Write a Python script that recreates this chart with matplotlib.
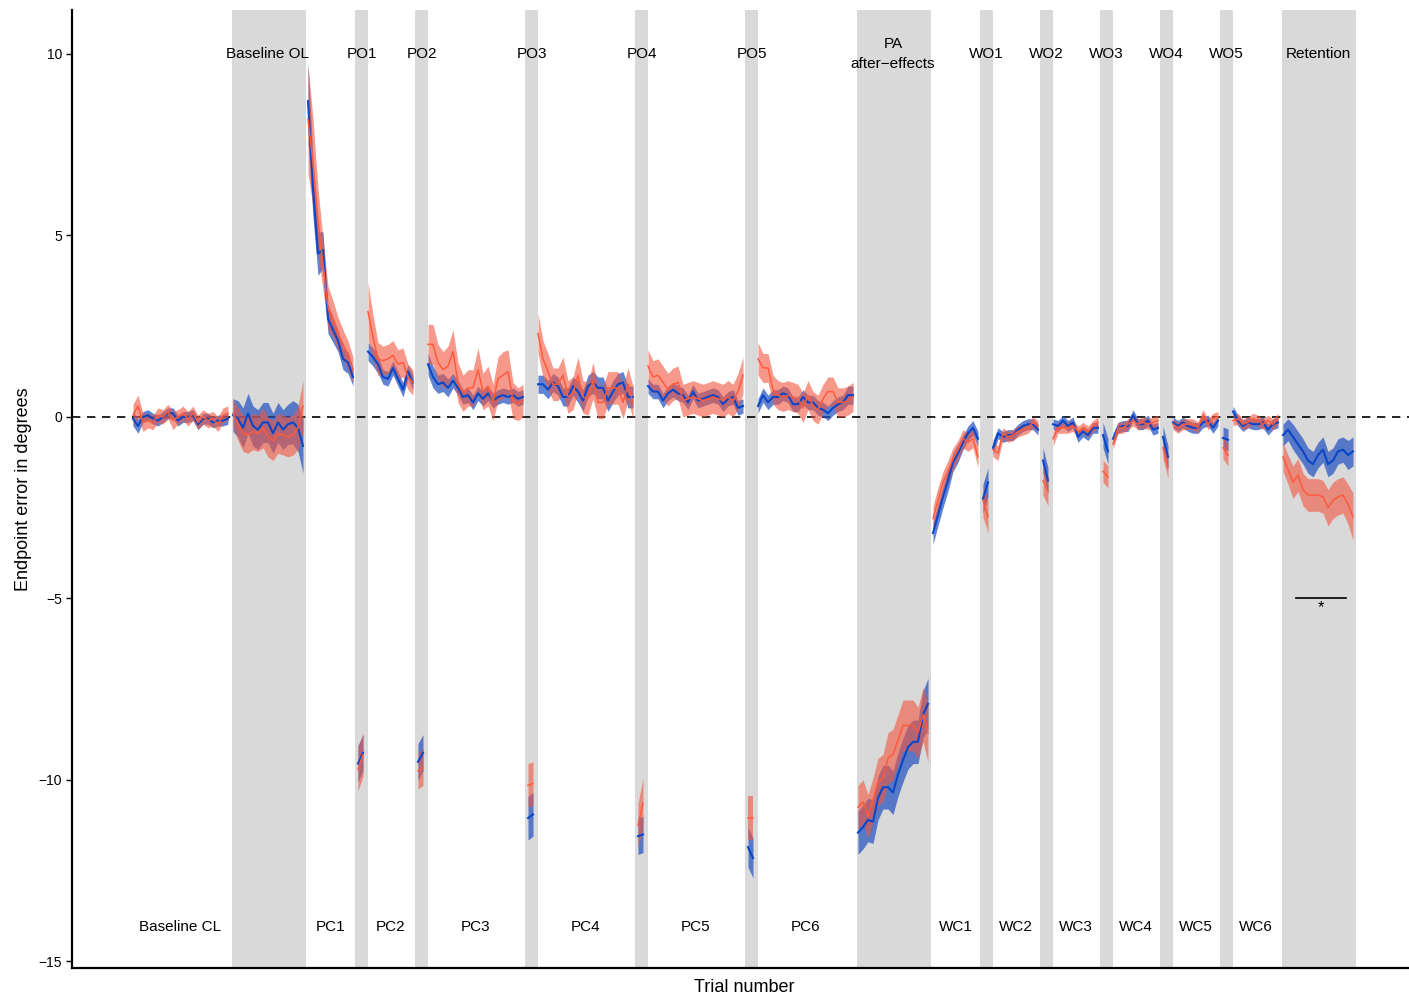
import numpy as np
import matplotlib.pyplot as plt

plt.rcParams['font.family'] = ['Liberation Sans', 'DejaVu Sans']

# Blocks in the order they were run; shaded blocks are open-loop / no-feedback
block_labels = ['Baseline CL', 'Baseline OL', 'PC1', 'PO1', 'PC2', 'PO2', 'PC3', 'PO3',
                'PC4', 'PO4', 'PC5', 'PO5', 'PC6', 'PA\nafter\u2212effects',
                'WC1', 'WO1', 'WC2', 'WO2', 'WC3', 'WO3', 'WC4', 'WO4', 'WC5', 'WO5',
                'WC6', 'Retention']
block_sizes = [20, 15, 10, 2, 10, 2, 20, 2, 20, 2, 20, 2, 20, 15,
               10, 2, 10, 2, 10, 2, 10, 2, 10, 2, 10, 15]
block_shaded = [False, True, False, True, False, True, False, True, False, True, False, True,
                False, True, False, True, False, True, False, True, False, True, False, True,
                False, True]

# group 1 (blue): mean endpoint error per trial, one row per block
blue_mean = [
    -0.05, -0.25, 0.0, 0.05, -0.05, -0.1, 0.0, 0.1, 0.1, -0.1, 0.0, 0.0, 0.05, -0.2, -0.05, -0.05, -0.15, -0.1, -0.1, -0.05,
    0.05, -0.05, -0.3, 0.1, -0.25, -0.35, -0.15, -0.15, -0.45, -0.15, -0.35, -0.2, -0.15, -0.3, -0.8,
    8.7, 6.3, 4.5, 4.6, 2.7, 2.4, 2.1, 1.6, 1.5, 1.1,
    -9.55, -9.25,
    1.8, 1.65, 1.45, 1.1, 1.05, 1.35, 1.05, 0.75, 1.25, 0.95,
    -9.5, -9.25,
    1.45, 1.1, 0.9, 0.95, 0.8, 1.0, 0.8, 0.55, 0.6, 0.4, 0.65, 0.5, 0.65, 0.45, 0.55, 0.6, 0.55, 0.6, 0.5, 0.55,
    -11.05, -10.95,
    0.9, 0.9, 0.75, 0.95, 0.85, 0.55, 0.55, 0.85, 0.7, 0.45, 0.85, 0.95, 0.8, 0.8, 0.45, 0.7, 0.9, 0.95, 0.55, 0.55,
    -11.55, -11.5,
    0.85, 0.7, 0.7, 0.45, 0.65, 0.75, 0.65, 0.6, 0.4, 0.7, 0.45, 0.5, 0.55, 0.6, 0.55, 0.35, 0.5, 0.55, 0.25, 0.3,
    -11.85, -12.15,
    0.3, 0.6, 0.4, 0.55, 0.55, 0.65, 0.6, 0.35, 0.35, 0.55, 0.4, 0.4, 0.25, 0.2, 0.1, 0.25, 0.35, 0.4, 0.6, 0.6,
    -11.45, -11.3, -11.1, -11.15, -10.5, -10.2, -10.2, -10.35, -9.85, -9.45, -9.1, -8.95, -8.95, -8.2, -7.9,
    -3.2, -2.7, -2.2, -1.75, -1.25, -1.0, -0.7, -0.45, -0.3, -0.6,
    -2.25, -1.8,
    -0.85, -0.45, -0.55, -0.5, -0.5, -0.35, -0.25, -0.2, -0.2, -0.35,
    -1.2, -1.75,
    -0.2, -0.25, -0.1, -0.25, -0.15, -0.55, -0.4, -0.5, -0.3, -0.3,
    -0.5, -0.95,
    -0.6, -0.3, -0.25, -0.25, 0.05, -0.2, -0.2, -0.1, -0.35, -0.3,
    -0.55, -1.1,
    -0.15, -0.25, -0.15, -0.25, -0.3, -0.3, -0.15, -0.1, -0.3, -0.1,
    -0.58, -0.63,
    0.15, -0.1, -0.25, -0.15, -0.2, -0.2, -0.15, -0.35, -0.2, -0.15,
    -0.5, -0.35, -0.55, -0.75, -0.95, -1.2, -1.3, -1.05, -0.9, -1.3, -1.2, -0.95, -0.9, -1.05, -0.95,
]
blue_sd = [
    0.2, 0.2, 0.15, 0.15, 0.15, 0.15, 0.15, 0.15, 0.15, 0.15, 0.15, 0.15, 0.15, 0.15, 0.15, 0.15, 0.15, 0.15, 0.15, 0.15,
    0.45, 0.5, 0.55, 0.55, 0.55, 0.55, 0.55, 0.55, 0.55, 0.55, 0.55, 0.55, 0.6, 0.65, 0.75,
    1.1, 0.8, 0.6, 0.5, 0.4, 0.35, 0.3, 0.3, 0.3, 0.25,
    0.5, 0.5,
    0.25, 0.25, 0.25, 0.2, 0.2, 0.2, 0.2, 0.2, 0.2, 0.2,
    0.5, 0.5,
    0.3, 0.3, 0.25, 0.25, 0.25, 0.2, 0.2, 0.2, 0.2, 0.2, 0.2, 0.2, 0.2, 0.2, 0.2, 0.2, 0.2, 0.2, 0.2, 0.2,
    0.6, 0.6,
    0.25, 0.25, 0.25, 0.25, 0.25, 0.25, 0.25, 0.25, 0.3, 0.3, 0.3, 0.3, 0.3, 0.3, 0.3, 0.3, 0.3, 0.3, 0.3, 0.3,
    0.5, 0.5,
    0.2, 0.2, 0.2, 0.2, 0.2, 0.2, 0.2, 0.2, 0.2, 0.2, 0.2, 0.2, 0.2, 0.2, 0.2, 0.2, 0.2, 0.2, 0.2, 0.2,
    0.55, 0.55,
    0.2, 0.2, 0.2, 0.2, 0.2, 0.2, 0.2, 0.2, 0.2, 0.2, 0.2, 0.2, 0.2, 0.2, 0.2, 0.2, 0.2, 0.2, 0.25, 0.25,
    0.6, 0.6, 0.6, 0.6, 0.6, 0.6, 0.6, 0.6, 0.6, 0.6, 0.6, 0.6, 0.6, 0.65, 0.7,
    0.3, 0.3, 0.3, 0.3, 0.25, 0.25, 0.2, 0.2, 0.2, 0.2,
    0.4, 0.4,
    0.2, 0.15, 0.15, 0.15, 0.15, 0.15, 0.15, 0.15, 0.15, 0.15,
    0.35, 0.35,
    0.15, 0.15, 0.15, 0.15, 0.15, 0.15, 0.15, 0.15, 0.15, 0.15,
    0.35, 0.35,
    0.15, 0.15, 0.15, 0.15, 0.15, 0.15, 0.15, 0.15, 0.15, 0.15,
    0.3, 0.3,
    0.15, 0.15, 0.15, 0.15, 0.15, 0.15, 0.15, 0.15, 0.15, 0.15,
    0.3, 0.3,
    0.15, 0.15, 0.15, 0.15, 0.15, 0.15, 0.15, 0.15, 0.15, 0.15,
    0.3, 0.3, 0.35, 0.35, 0.35, 0.35, 0.35, 0.35, 0.35, 0.35, 0.35, 0.35, 0.35, 0.4, 0.4,
]

# group 2 (red)
red_mean = [
    0.05, 0.3, -0.15, -0.1, -0.15, 0.05, 0.0, 0.15, -0.1, 0.0, 0.1, -0.05, 0.1, -0.15, 0.0, -0.1, -0.05, -0.2, 0.05, 0.1,
    0.1, -0.2, -0.45, -0.5, -0.4, -0.45, -0.3, -0.55, -0.65, -0.45, -0.5, -0.55, -0.5, -0.3, 0.3,
    8.2, 7.0, 5.4, 4.2, 3.0, 2.7, 2.3, 2.0, 1.7, 1.3,
    -9.7, -9.3,
    2.9, 2.2, 1.6, 1.55, 1.6, 1.7, 1.45, 1.5, 1.1, 0.95,
    -9.75, -9.65,
    2.0, 2.0, 1.5, 1.3, 1.4, 1.8, 0.95, 0.65, 0.8, 0.8, 1.3, 0.7, 0.85, 0.4, 1.05, 1.15, 1.25, 0.45, 0.35, 0.45,
    -10.15, -10.1,
    2.3, 1.6, 1.25, 0.9, 0.9, 1.15, 0.55, 0.65, 1.15, 0.55, 0.5, 1.0, 0.4, 0.4, 0.8, 0.8, 0.8, 0.4, 0.9, 0.4,
    -11.25, -10.65,
    1.4, 1.1, 1.15, 0.95, 0.75, 0.9, 0.95, 0.45, 0.5, 0.55, 0.5, 0.45, 0.5, 0.55, 0.5, 0.45, 0.55, 0.45, 0.7, 1.15,
    -11.05, -11.05,
    1.6, 1.35, 1.35, 0.75, 0.6, 0.55, 0.6, 0.55, 0.5, 0.25, 0.6, 0.3, 0.2, 0.5, 0.7, 0.7, 0.4, 0.4, 0.45, 0.55,
    -10.75, -10.6, -11.0, -10.55, -10.05, -9.95, -9.4, -9.3, -8.9, -8.5, -8.5, -8.5, -8.7, -8.2, -8.7,
    -2.8, -2.3, -1.8, -1.5, -1.15, -0.9, -0.6, -0.7, -0.6, -1.1,
    -2.3, -2.75,
    -0.9, -1.0, -0.45, -0.55, -0.5, -0.4, -0.35, -0.3, -0.15, -0.25,
    -1.75, -2.05,
    -0.6, -0.3, -0.3, -0.3, -0.25, -0.4, -0.3, -0.4, -0.25, -0.15,
    -1.5, -1.65,
    -0.75, -0.3, -0.3, -0.2, -0.1, -0.2, -0.15, -0.2, -0.15, -0.1,
    -0.85, -1.4,
    -0.2, -0.3, -0.2, -0.2, -0.2, -0.3, 0.05, -0.2, -0.05, 0.0,
    -0.85, -1.05,
    -0.1, -0.05, -0.2, -0.15, -0.05, -0.1, -0.2, -0.1, -0.2, -0.05,
    -1.1, -1.45, -1.8, -1.6, -2.0, -2.15, -2.15, -2.15, -2.2, -2.5, -2.3, -2.2, -2.15, -2.4, -2.75,
]
red_sd = [
    0.3, 0.3, 0.25, 0.2, 0.2, 0.2, 0.2, 0.2, 0.25, 0.2, 0.2, 0.2, 0.2, 0.2, 0.2, 0.2, 0.2, 0.2, 0.2, 0.2,
    0.4, 0.45, 0.5, 0.5, 0.5, 0.5, 0.55, 0.55, 0.55, 0.55, 0.55, 0.55, 0.55, 0.6, 0.7,
    1.5, 1.2, 0.9, 0.7, 0.6, 0.5, 0.45, 0.4, 0.4, 0.35,
    0.6, 0.6,
    0.8, 0.6, 0.45, 0.4, 0.4, 0.4, 0.4, 0.4, 0.35, 0.35,
    0.5, 0.5,
    0.55, 0.55, 0.5, 0.5, 0.55, 0.6, 0.55, 0.5, 0.5, 0.5, 0.6, 0.5, 0.55, 0.5, 0.6, 0.65, 0.6, 0.5, 0.45, 0.45,
    0.6, 0.6,
    0.55, 0.5, 0.5, 0.45, 0.45, 0.5, 0.45, 0.45, 0.5, 0.45, 0.45, 0.5, 0.45, 0.45, 0.45, 0.45, 0.45, 0.45, 0.45, 0.45,
    0.6, 0.7,
    0.45, 0.45, 0.45, 0.45, 0.45, 0.45, 0.45, 0.45, 0.45, 0.45, 0.45, 0.45, 0.45, 0.45, 0.45, 0.45, 0.45, 0.45, 0.5, 0.5,
    0.6, 0.6,
    0.45, 0.4, 0.4, 0.4, 0.4, 0.4, 0.4, 0.4, 0.4, 0.4, 0.4, 0.4, 0.4, 0.4, 0.4, 0.4, 0.4, 0.4, 0.4, 0.4,
    0.6, 0.6, 0.6, 0.6, 0.65, 0.65, 0.7, 0.7, 0.7, 0.7, 0.7, 0.7, 0.7, 0.75, 0.8,
    0.35, 0.35, 0.3, 0.3, 0.3, 0.25, 0.25, 0.25, 0.25, 0.3,
    0.45, 0.45,
    0.2, 0.2, 0.15, 0.15, 0.15, 0.15, 0.15, 0.15, 0.15, 0.15,
    0.4, 0.4,
    0.2, 0.15, 0.15, 0.15, 0.15, 0.15, 0.15, 0.15, 0.15, 0.15,
    0.3, 0.3,
    0.15, 0.15, 0.15, 0.15, 0.15, 0.15, 0.15, 0.15, 0.15, 0.15,
    0.3, 0.3,
    0.15, 0.15, 0.15, 0.15, 0.15, 0.15, 0.15, 0.15, 0.15, 0.15,
    0.3, 0.3,
    0.15, 0.15, 0.15, 0.15, 0.15, 0.15, 0.15, 0.15, 0.15, 0.15,
    0.4, 0.4, 0.45, 0.45, 0.45, 0.45, 0.45, 0.45, 0.45, 0.5, 0.5, 0.5, 0.5, 0.55, 0.65,
]

# Retention difference marker
sig_span = (233.6, 243.6)
sig_y = -5.0

blue_line, blue_fill = '#0a47c8', '#1f4fc0'
red_line, red_fill = '#ff5a3c', '#f2553d'
shade = '#d9d9d9'

fig = plt.figure(figsize=(14.09, 9.99), dpi=100)
ax = fig.add_axes([72 / 1409, 31 / 999, 1 - 72 / 1409, 958 / 999])

starts = np.concatenate([[1], 1 + np.cumsum(block_sizes)[:-1]])
blue_mean = np.array(blue_mean)
blue_sd = np.array(blue_sd)
red_mean = np.array(red_mean)
red_sd = np.array(red_sd)

# gray bands behind the no-feedback blocks
for s, n, sh in zip(starts, block_sizes, block_shaded):
    if not sh:
        continue
    last = s + n - 1
    if n <= 2:
        ax.axvspan(s - 0.6, last + 1.0, color=shade, lw=0, zorder=0)
    else:
        ax.axvspan(s - 0.2, last + 0.6, color=shade, lw=0, zorder=0)

ax.axhline(0, color='black', lw=1.2, ls=(0, (5, 4)), zorder=1)

# ribbons and lines are broken between blocks
for s, n in zip(starts, block_sizes):
    idx = np.arange(s - 1, s - 1 + n)
    t = idx + 1
    ax.fill_between(t, blue_mean[idx] - blue_sd[idx], blue_mean[idx] + blue_sd[idx],
                    color=blue_fill, alpha=0.7, lw=0, zorder=2)
    ax.fill_between(t, red_mean[idx] - red_sd[idx], red_mean[idx] + red_sd[idx],
                    color=red_fill, alpha=0.6, lw=0, zorder=3)
for s, n in zip(starts, block_sizes):
    idx = np.arange(s - 1, s - 1 + n)
    t = idx + 1
    ax.plot(t, blue_mean[idx], color=blue_line, lw=1.5, zorder=4)
    ax.plot(t, red_mean[idx], color=red_line, lw=1.1, zorder=5)

# block names: shaded blocks on top, closed-loop blocks at the bottom
for s, n, sh, lab in zip(starts, block_sizes, block_shaded, block_labels):
    xc = s + (n - 1) / 2
    if n <= 2:
        xc = s + 0.7
    if sh:
        ax.text(xc, 10.0, lab, ha='center', va='center', fontsize=11, linespacing=1.6)
    else:
        ax.text(xc, -14.05, lab, ha='center', va='center', fontsize=11)

ax.plot(sig_span, [sig_y, sig_y], color='black', lw=1.2, zorder=6)
ax.text(np.mean(sig_span), sig_y - 0.05, '*', ha='center', va='top', fontsize=12)

ax.set_xlim(-11.2, 256.2)
ax.set_ylim(-15.18, 11.21)
ax.set_yticks([10, 5, 0, -5, -10, -15])
ax.set_xticks([])
ax.tick_params(axis='y', direction='out', length=4, width=1, labelsize=10, pad=3)
for side in ['top', 'right']:
    ax.spines[side].set_visible(False)
for side in ['left', 'bottom']:
    ax.spines[side].set_linewidth(1.6)

fig.text(24 / 1409, 1 - 489 / 999, 'Endpoint error in degrees', rotation=90,
         ha='center', va='center', fontsize=13)
fig.text(744 / 1409, 1 - 987 / 999, 'Trial number', ha='center', va='center', fontsize=13)

fig.savefig('out.png', dpi=100)
